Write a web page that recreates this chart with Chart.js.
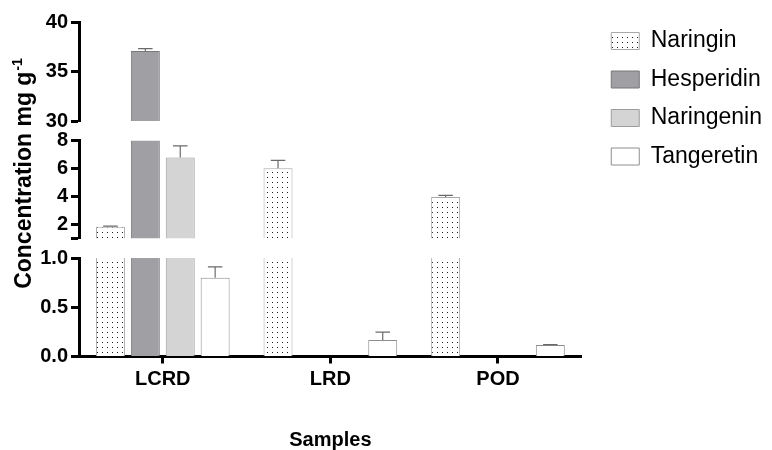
<!DOCTYPE html>
<html>
<head>
<meta charset="utf-8">
<script src="https://cdn.jsdelivr.net/npm/chart.js@4.4.1/dist/chart.umd.min.js"></script>
<style>
  html, body { margin: 0; padding: 0; background: #fff; }
</style>
</head>
<body>
<canvas id="chart" width="772" height="450"></canvas>
<script>
// data
const samples = ['LCRD', 'LRD', 'POD'];
const compounds = ['Naringin', 'Hesperidin', 'Naringenin', 'Tangeretin'];

const naringin = [1.84, 6.01, 3.96];
const naringinErr = [0.04, 0.57, 0.12];
const hesperidin = [37.1, 0, 0];
const hesperidinErr = [0.24, 0, 0];
const naringenin = [6.78, 0, 0];
const naringeninErr = [0.84, 0, 0];
const tangeretin = [0.80, 0.167, 0.116];
const tangeretinErr = [0.11, 0.08, 0.005];

// broken y axis: three ranges and their tick values
const highTicks = [30, 35, 40];
const midTicks = [2, 4, 6, 8];
const lowTicks = [0, 0.5, 1.0];

const yTitle = 'Concentration mg g';
const yTitleSup = '-1';
const xTitle = 'Samples';

const FONT = '"Liberation Sans", Arial, sans-serif';

const canvas = document.getElementById('chart');
const ctx = canvas.getContext('2d');

function dotPattern() {
  const c = document.createElement('canvas');
  c.width = 5;
  c.height = 5;
  const g = c.getContext('2d');
  g.fillStyle = '#fff';
  g.fillRect(0, 0, 5, 5);
  g.fillStyle = '#1a1a1a';
  g.fillRect(2, 2, 1, 1);
  return ctx.createPattern(c, 'repeat');
}

const series = [naringin, hesperidin, naringenin, tangeretin];
const seriesErr = [naringinErr, hesperidinErr, naringeninErr, tangeretinErr];
const fills = [dotPattern(), '#a09fa4', '#d4d4d4', '#ffffff'];
const borders = ['#a8a8a8', '#777777', '#9c9c9c', '#8e8e8e'];

// segments of the axis, top to bottom (spacers make the white breaks)
const segments = [
  { id: 'yHigh', ticks: highTicks, weight: 98.5 },
  { id: 'gapHigh', ticks: null, weight: 19.5 },
  { id: 'yMid', ticks: midTicks, weight: 98 },
  { id: 'gapLow', ticks: null, weight: 19.5 },
  { id: 'yLow', ticks: lowTicks, weight: 98.5 }
];
const barSegments = segments.filter(s => s.ticks);

const datasets = [];
compounds.forEach((name, i) => {
  barSegments.forEach(seg => {
    datasets.push({
      label: name,
      data: series[i],
      errors: seriesErr[i],
      stack: name,
      yAxisID: seg.id,
      backgroundColor: fills[i],
      borderColor: borders[i],
      borderWidth: 1,
      categoryPercentage: 0.833,
      barPercentage: 0.83
    });
  });
});

const tickFont = { family: FONT, size: 20, weight: 'bold' };

const scales = {
  x: {
    z: 1,
    offset: true,
    grid: { drawOnChartArea: false, offset: false, tickLength: 7, tickWidth: 3, tickColor: '#000' },
    border: { color: '#000', width: 3 },
    ticks: { color: '#000', font: tickFont, padding: 4 },
    title: { display: true, text: xTitle, color: '#000', font: { family: FONT, size: 20, weight: 'bold', lineHeight: 1 }, padding: 0 },
    afterFit: s => { s.height = 93.5; }
  },
  xTop: {
    type: 'category',
    position: 'top',
    grid: { display: false },
    border: { display: false },
    ticks: { display: false },
    afterFit: s => { s.height = 8.5; }
  },
  yRight: {
    type: 'linear',
    position: 'right',
    grid: { display: false },
    border: { display: false },
    ticks: { display: false },
    afterFit: s => { s.width = 14; }
  }
};

segments.forEach((seg, k) => {
  const base = {
    type: 'linear',
    position: 'left',
    stack: 'y',
    stackWeight: seg.weight,
    weight: segments.length - k,
    stacked: false,
    afterFit: s => { s.width = 79; }
  };
  if (!seg.ticks) {
    scales[seg.id] = Object.assign(base, {
      min: 0, max: 1,
      grid: { display: false },
      border: { display: false },
      ticks: { display: false }
    });
    return;
  }
  const vals = seg.ticks;
  const lo = seg.id === 'yMid' ? 1 : vals[0];
  scales[seg.id] = Object.assign(base, {
    min: lo,
    max: vals[vals.length - 1],
    afterBuildTicks: s => {
      const list = lo < vals[0] ? [lo].concat(vals) : vals;
      s.ticks = list.map(v => ({ value: v }));
    },
    grid: { drawOnChartArea: false, tickLength: 8, tickWidth: 3, tickColor: '#000' },
    border: { color: '#000', width: 3 },
    ticks: {
      color: '#000',
      font: tickFont,
      padding: 3,
      autoSkip: false,
      callback: v => {
        if (vals.indexOf(v) < 0) return '';
        return seg.id === 'yLow' ? v.toFixed(1) : String(v);
      }
    }
  });
});

// clip each bar dataset to its own axis segment, then draw its error bars
const brokenAxis = {
  id: 'brokenAxis',
  beforeDatasetDraw(chart, args) {
    const ys = chart.scales[args.meta.yAxisID];
    const area = chart.chartArea;
    const c = chart.ctx;
    c.save();
    c.beginPath();
    c.rect(area.left, ys.top, area.right - area.left, ys.bottom - ys.top);
    c.clip();
  },
  afterDatasetDraw(chart, args) {
    const meta = args.meta;
    const ds = chart.data.datasets[args.index];
    const ys = chart.scales[meta.yAxisID];
    const c = chart.ctx;
    c.strokeStyle = '#6a6a6a';
    c.lineWidth = 1.2;
    meta.data.forEach((bar, i) => {
      const err = ds.errors[i];
      const v = ds.data[i];
      if (!err) return;
      const y0 = ys.getPixelForValue(v);
      const y1 = ys.getPixelForValue(v + err);
      const half = bar.width * 0.25;
      c.beginPath();
      c.moveTo(bar.x, y0);
      c.lineTo(bar.x, y1);
      c.moveTo(bar.x - half, y1);
      c.lineTo(bar.x + half, y1);
      c.stroke();
    });
    c.restore();
  },
  afterDraw(chart) {
    const c = chart.ctx;
    const top = chart.scales.yHigh.top;
    const bottom = chart.scales.yLow.bottom;
    const cy = (top + bottom) / 2 - 16;
    c.save();
    c.translate(31, cy);
    c.rotate(-Math.PI / 2);
    c.fillStyle = '#000';
    c.textAlign = 'left';
    c.textBaseline = 'alphabetic';
    c.font = 'bold 23px ' + FONT;
    const w1 = c.measureText(yTitle).width;
    c.font = 'bold 14px ' + FONT;
    const w2 = c.measureText(yTitleSup).width;
    const x0 = -(w1 + w2 + 1) / 2;
    c.font = 'bold 23px ' + FONT;
    c.fillText(yTitle, x0, 0);
    c.font = 'bold 14px ' + FONT;
    c.fillText(yTitleSup, x0 + w1 + 1, -9);
    c.restore();
  }
};

new Chart(ctx, {
  type: 'bar',
  data: { labels: samples, datasets: datasets },
  options: {
    responsive: false,
    animation: false,
    devicePixelRatio: 1,
    layout: { padding: { top: 14, right: 0, bottom: 0, left: 0 } },
    scales: scales,
    plugins: {
      tooltip: { enabled: false },
      legend: {
        position: 'right',
        align: 'start',
        maxWidth: 250,
        labels: {
          color: '#000',
          font: { family: FONT, size: 23 },
          boxWidth: 28,
          boxHeight: 17,
          padding: 15.5,
          filter: (item, data) => data.datasets[item.datasetIndex].yAxisID === 'yLow'
        }
      }
    }
  },
  plugins: [brokenAxis]
});
</script>
</body>
</html>
